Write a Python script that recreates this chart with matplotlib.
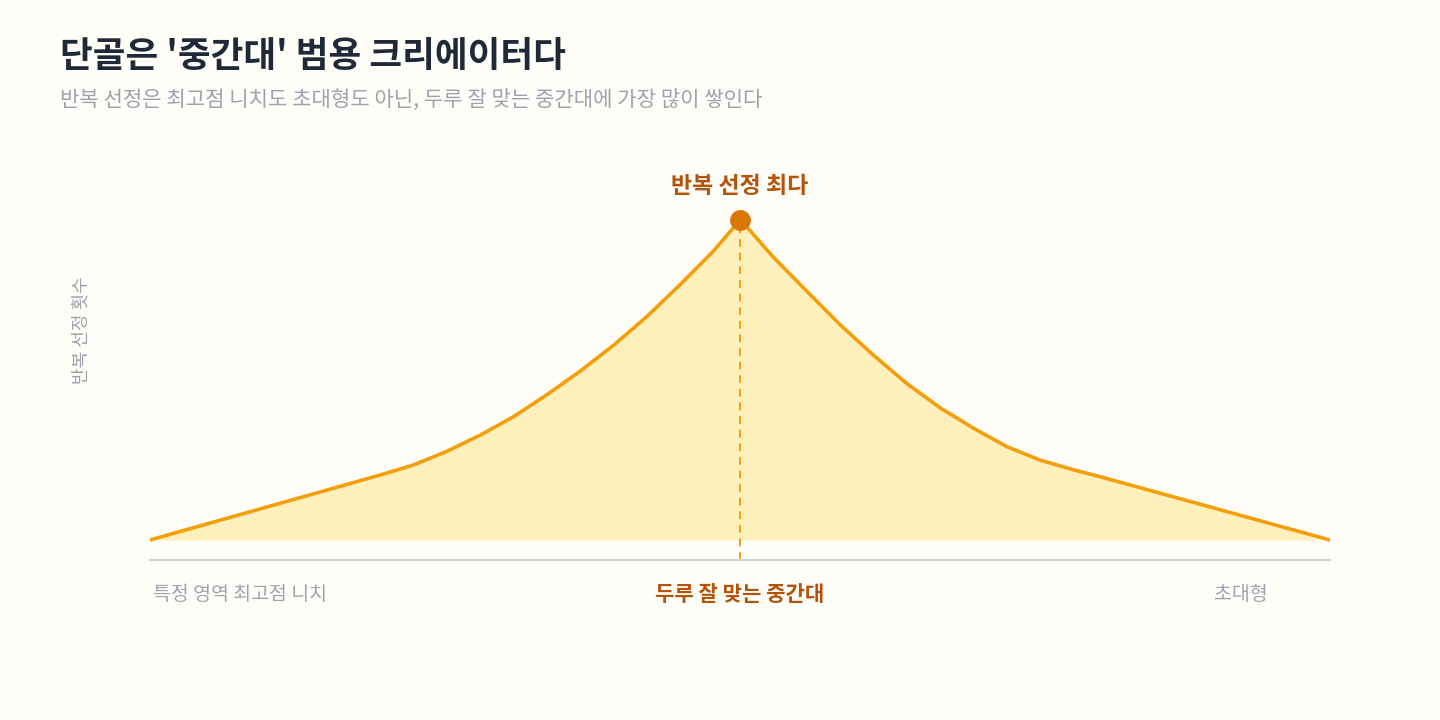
import matplotlib
matplotlib.use('Agg')
import matplotlib.pyplot as plt

plt.rcParams['font.family'] = ['Noto Sans CJK KR', 'DejaVu Sans']

# curve (x: 0..100 across the axis, y: peak = 100)
xs = [0, 19.5, 22.3, 25.1, 28.0, 30.8, 33.6, 36.4, 39.3, 42.1, 44.9, 47.7, 49.4, 50.0,
      50.3, 52.8, 55.7, 58.5, 61.3, 64.1, 67.0, 69.8, 72.6, 75.4, 78.3, 80.5, 100]
ys = [0, 20.3, 23.4, 27.6, 32.8, 38.5, 45.3, 52.6, 60.9, 69.8, 79.7, 90.1, 97.4, 100,
      99.0, 88.5, 77.6, 67.2, 57.8, 49.0, 41.2, 34.9, 29.2, 25.0, 21.9, 19.8, 0]
peak_x = 50.0
peak_y = 100
tick_pos = [7.6, 50.0, 92.4]
tick_labels = ['특정 영역 최고점 니치', '두루 잘 맞는 중간대', '초대형']

bg = '#FFFDF7'
fig = plt.figure(figsize=(14.4, 7.2), dpi=100, facecolor=bg)
ax = fig.add_axes([150/1440, 1-560/720, 1180/1440, 360/720])
ax.set_facecolor(bg)

ax.fill_between(xs, 0, ys, color='#FEF0BA', lw=0, zorder=1)
ax.plot(xs, ys, color='#F59E0B', lw=2.6, solid_joinstyle='round', zorder=3)
ax.plot([peak_x, peak_x], [-6.25, peak_y], color='#F59E0B', lw=1.4,
        ls=(0, (4, 3)), zorder=2)
ax.plot([peak_x], [peak_y], 'o', color='#D97706', ms=14, zorder=4)
ax.text(peak_x, peak_y + 10.5, '반복 선정 최다', ha='center', va='center',
        fontsize=16.5, fontweight='bold', color='#B45309')

ax.set_xlim(0, 100)
ax.set_ylim(-6.25, 106.25)
for s in ['top', 'right', 'left']:
    ax.spines[s].set_visible(False)
ax.spines['bottom'].set_color('#D1D5DB')
ax.spines['bottom'].set_linewidth(1.5)
ax.set_yticks([])
ax.set_xticks(tick_pos)
ax.set_xticklabels(tick_labels)
ax.tick_params(axis='x', length=0, pad=17)
for i, lab in enumerate(ax.get_xticklabels()):
    if i == 1:
        lab.set_fontsize(15.2)
        lab.set_fontweight('bold')
        lab.set_color('#B45309')
    else:
        lab.set_fontsize(14)
        lab.set_color('#9CA3AF')

fig.text(82/1440, 1-330/720, '반복 선정 횟수', rotation=90, ha='center', va='center',
         fontsize=13, color='#9CA3AF')
fig.text(60/1440, 1-57/720, "단골은 '중간대' 범용 크리에이터다", ha='left', va='center',
         fontsize=25.6, fontweight='bold', color='#1F2937')
fig.text(60/1440, 1-100/720, '반복 선정은 최고점 니치도 초대형도 아닌, 두루 잘 맞는 중간대에 가장 많이 쌓인다',
         ha='left', va='center', fontsize=15.2, color='#9CA3AF')

fig.savefig('out.png', dpi=100, facecolor=bg)
